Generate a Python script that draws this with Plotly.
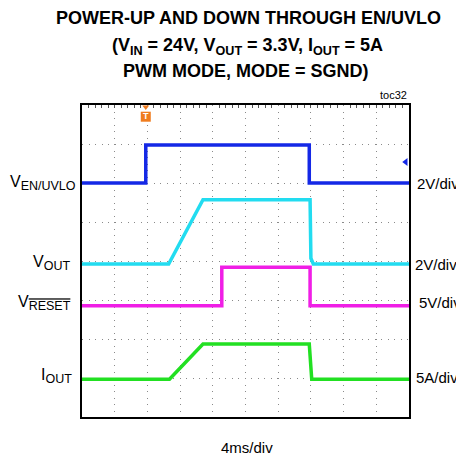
import plotly.graph_objects as go

# ---- data (time in ms, values in V or A) ----
time_per_div_ms = 4
n_xdiv = 10
n_ydiv = 8

en_t = [0, 7.8, 7.8, 27.8, 27.8, 40]
en_v = [0, 0, 1.95, 1.95, 0, 0]

vout_t = [0, 10.6, 14.8, 27.9, 28.0, 28.3, 40]
vout_v = [0, 0, 3.3, 3.3, 0.3, 0, 0]

reset_t = [0, 17.1, 17.1, 27.9, 27.9, 40]
reset_v = [0, 0, 4.95, 4.95, 0, 0]

iout_t = [0, 10.7, 14.8, 27.8, 28.1, 40]
iout_v = [0, 0, 4.5, 4.5, 0, 0]

trigger_time_ms = 7.8
trigger_level_v = 1.08

# channel settings: (scale per div, offset in divisions)
ch_en = (2, 6.0)
ch_vout = (2, 3.92)
ch_reset = (5, 2.85)
ch_iout = (5, 0.97)

FONT = "Liberation Sans, Arial, sans-serif"

def tx(t):
    return [ti / time_per_div_ms for ti in t]

def ty(v, ch):
    s, o = ch
    return [o + vi / s for vi in v]

fig = go.Figure()
traces = [
    (en_t, en_v, ch_en, "#1428e6"),
    (vout_t, vout_v, ch_vout, "#22dcf0"),
    (reset_t, reset_v, ch_reset, "#f01ee6"),
    (iout_t, iout_v, ch_iout, "#22e022"),
]
for t, v, ch, c in traces:
    fig.add_trace(go.Scatter(x=tx(t), y=ty(v, ch), mode="lines",
                             line=dict(color=c, width=3.5),
                             hoverinfo="skip", showlegend=False))

# trigger level marker (right edge)
fig.add_trace(go.Scatter(x=[n_xdiv - 0.1], y=ty([trigger_level_v], ch_en),
                         mode="markers", marker=dict(symbol="triangle-left", size=7, color="#1428e6"),
                         cliponaxis=False, hoverinfo="skip", showlegend=False))
# trigger position marker (top)
fig.add_trace(go.Scatter(x=tx([trigger_time_ms]), y=[n_ydiv - 0.3],
                         mode="markers+text", text=["<b>T</b>"],
                         textfont=dict(color="white", size=9, family=FONT),
                         textposition="middle center",
                         marker=dict(symbol="square", size=10, color="#f07c1e"),
                         cliponaxis=False, hoverinfo="skip", showlegend=False))
fig.add_trace(go.Scatter(x=tx([trigger_time_ms]), y=[n_ydiv - 0.05],
                         mode="markers",
                         marker=dict(symbol="triangle-down", size=6, color="#f07c1e"),
                         cliponaxis=False, hoverinfo="skip", showlegend=False))
# empty trace so the top tick axis renders
fig.add_trace(go.Scatter(x=[None], y=[None], xaxis="x2", yaxis="y",
                         hoverinfo="skip", showlegend=False))

grid = dict(showgrid=True, gridcolor="#8a8a8a", gridwidth=1, griddash="1px,5.5px",
            zeroline=False, showticklabels=False, ticks="",
            showline=True, linecolor="black", linewidth=2, mirror=True, fixedrange=True)

# page body has an 8px default margin, so the figure is 8px smaller than the window
fig.update_layout(
    width=456, height=454,
    margin=dict(l=74, r=55, t=97, b=45),
    paper_bgcolor="white", plot_bgcolor="white",
    xaxis=dict(range=[0, n_xdiv], dtick=1, **grid),
    yaxis=dict(range=[0, n_ydiv], dtick=1, **grid),
    xaxis2=dict(range=[0, n_xdiv], overlaying="x", anchor="y", side="top",
                showgrid=False, zeroline=False, showticklabels=False, showline=False,
                fixedrange=True, ticks="",
                minor=dict(ticks="inside", ticklen=3, dtick=0.2, tickcolor="#555", tickwidth=1)),
    font=dict(family=FONT, color="black"),
)

ann = []
def a(text, x, y, xanchor="center", size=15):
    ann.append(dict(text=text, x=x, y=y, xref="paper", yref="paper", xanchor=xanchor,
                    yanchor="middle", showarrow=False,
                    font=dict(size=size, family=FONT, color="black")))

W, H = 327, 312
def px(xpix):
    return (xpix - 82) / W
def py(ypix):
    return (417 - ypix) / H

def sub(s, extra=""):
    return "<sub><span style=\"font-size:12.5px;%s\">%s</span></sub>" % (extra, s)

a("<b>POWER-UP AND DOWN THROUGH EN/UVLO</b>", px(248), py(18), size=18)
a("<b>(V<sub>IN</sub> = 24V, V<sub>OUT</sub> = 3.3V, I<sub>OUT</sub> = 5A</b>", px(247), py(46), size=18)
a("<b>PWM MODE, MODE = SGND)</b>", px(246), py(71), size=18)
a("toc32", px(409), py(95), xanchor="right", size=11)
a("4ms/div", px(247), py(447), size=15)

a("V" + sub("EN/UVLO"), px(78), py(183), xanchor="right", size=16)
a("V" + sub("OUT"), px(72), py(263), xanchor="right", size=16)
a("V" + sub("RESET", "text-decoration:overline"), px(73), py(303), xanchor="right", size=16)
a("I" + sub("OUT"), px(74), py(376), xanchor="right", size=16)

a("2V/div", px(415), py(183), xanchor="left", size=15)
a("2V/div", px(413), py(264), xanchor="left", size=15)
a("5V/div", px(417), py(302), xanchor="left", size=15)
a("5A/div", px(414), py(377), xanchor="left", size=15)

fig.update_layout(annotations=ann)
fig.write_html("out.html")
